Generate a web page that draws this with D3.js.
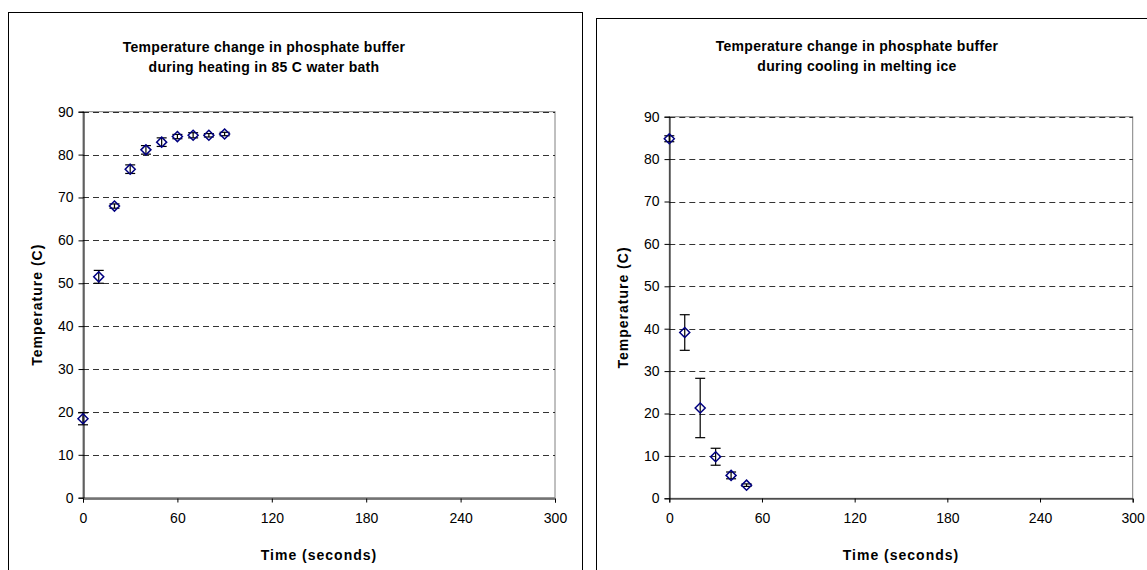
<!DOCTYPE html>
<html>
<head>
<meta charset="utf-8">
<script src="https://cdn.jsdelivr.net/npm/d3@7"></script>
<style>
  body { margin: 0; background: white; }
  svg text { font-family: "Liberation Sans", Arial, sans-serif; fill: #000; }
</style>
</head>
<body>
<div id="chart"></div>
<script>
const timeHeat = [0, 10, 20, 30, 40, 50, 60, 70, 80, 90];
const tempHeat = [18.4, 51.5, 68.0, 76.6, 81.1, 82.9, 84.2, 84.5, 84.5, 84.8];
const errHeat = [1.4, 1.5, 0.5, 1.0, 1.0, 1.0, 0.5, 0.6, 0.4, 0.4];

const timeCool = [0, 10, 20, 30, 40, 50];
const tempCool = [84.8, 39.1, 21.3, 9.8, 5.4, 3.1];
const errCool = [0.7, 4.2, 7.0, 2.0, 0.8, 0.3];

const xTicks = [0, 60, 120, 180, 240, 300];
const yTicks = [0, 10, 20, 30, 40, 50, 60, 70, 80, 90];

const titleHeat = ['Temperature change in phosphate buffer', 'during heating in 85 C water bath'];
const titleCool = ['Temperature change in phosphate buffer', 'during cooling in melting ice'];

const markerColor = '#000080';
const gridColor = '#000000';
const borderColor = '#808080';
const tickFontSize = '14px';

const svg = d3.select('#chart')
  .append('svg')
  .attr('width', 1147)
  .attr('height', 570);

function drawChart({frame, plot, title, titleX, titleY, times, temps, errs, yLabelX, xLabelY}) {
  // outer chart frame
  svg.append('rect')
    .attr('x', frame.x + 0.5)
    .attr('y', frame.y + 0.5)
    .attr('width', frame.w)
    .attr('height', frame.h)
    .attr('fill', 'white')
    .attr('stroke', '#000')
    .attr('stroke-width', 1);

  const xScale = d3.scaleLinear().domain([0, 300]).range([plot.x0, plot.x1]);
  const yScale = d3.scaleLinear().domain([0, 90]).range([plot.y0, plot.y1]);

  const g = svg.append('g');

  // plot area border
  g.append('rect')
    .attr('x', plot.x0)
    .attr('y', plot.y1)
    .attr('width', plot.x1 - plot.x0)
    .attr('height', plot.y0 - plot.y1)
    .attr('fill', 'none')
    .attr('stroke', borderColor)
    .attr('stroke-width', 1);

  // dashed gridlines
  g.append('g')
    .selectAll('line')
    .data(yTicks.filter(d => d > 0))
    .join('line')
    .attr('x1', plot.x0)
    .attr('x2', plot.x1)
    .attr('y1', d => Math.round(yScale(d)) + 0.5)
    .attr('y2', d => Math.round(yScale(d)) + 0.5)
    .attr('stroke', gridColor)
    .attr('stroke-opacity', 0.8)
    .attr('stroke-dasharray', '6,4');

  const xAxis = g.append('g')
    .attr('transform', `translate(0, ${Math.round(plot.y0) + 0.5})`)
    .call(d3.axisBottom(xScale).tickValues(xTicks).tickSize(4).tickPadding(11));
  xAxis.select('.domain').attr('stroke', '#000');
  xAxis.selectAll('text').style('font-size', tickFontSize);

  const yAxis = g.append('g')
    .attr('transform', `translate(${Math.round(plot.x0) + 0.5}, 0)`)
    .call(d3.axisLeft(yScale).tickValues(yTicks).tickSize(5).tickPadding(5));
  yAxis.select('.domain').attr('stroke', '#000');
  yAxis.selectAll('text').style('font-size', tickFontSize);

  // title
  svg.append('text')
    .attr('x', titleX)
    .attr('y', titleY)
    .attr('text-anchor', 'middle')
    .style('font-size', '14px')
    .style('font-weight', 'bold')
    .style('letter-spacing', '0.3px')
    .selectAll('tspan')
    .data(title)
    .join('tspan')
    .attr('x', titleX)
    .attr('dy', (d, i) => i === 0 ? 0 : 20)
    .text(d => d);

  svg.append('text')
    .attr('transform', `translate(${yLabelX}, ${(plot.y0 + plot.y1) / 2}) rotate(-90)`)
    .attr('text-anchor', 'middle')
    .attr('dy', '0.35em')
    .style('font-size', '14px')
    .style('font-weight', 'bold')
    .style('letter-spacing', '1px')
    .text('Temperature (C)');

  svg.append('text')
    .attr('x', (plot.x0 + plot.x1) / 2)
    .attr('y', xLabelY)
    .attr('text-anchor', 'middle')
    .attr('dy', '0.35em')
    .style('font-size', '14px')
    .style('font-weight', 'bold')
    .style('letter-spacing', '1px')
    .text('Time (seconds)');

  // error bars
  const bars = g.append('g').attr('stroke', '#000').attr('stroke-width', 1.2);
  times.forEach((t, i) => {
    const cx = xScale(t);
    const top = yScale(temps[i] + errs[i]);
    const bot = yScale(temps[i] - errs[i]);
    bars.append('line').attr('x1', cx).attr('x2', cx).attr('y1', top).attr('y2', bot);
    bars.append('line').attr('x1', cx - 5).attr('x2', cx + 5).attr('y1', top).attr('y2', top);
    bars.append('line').attr('x1', cx - 5).attr('x2', cx + 5).attr('y1', bot).attr('y2', bot);
  });

  // diamond markers
  const diamond = d3.symbol().type(d3.symbolDiamond2).size(64);
  g.append('g')
    .selectAll('path')
    .data(times)
    .join('path')
    .attr('transform', (t, i) => `translate(${xScale(t)}, ${yScale(temps[i])})`)
    .attr('d', diamond)
    .attr('fill', 'none')
    .attr('stroke', markerColor)
    .attr('stroke-width', 1.5);
}

drawChart({
  frame: {x: 8, y: 12, w: 574, h: 570},
  plot: {x0: 83, x1: 555, y0: 497.7, y1: 111.7},
  title: titleHeat,
  titleX: 264,
  titleY: 52,
  times: timeHeat,
  temps: tempHeat,
  errs: errHeat,
  yLabelX: 37,
  xLabelY: 555
});

drawChart({
  frame: {x: 596, y: 18, w: 560, h: 570},
  plot: {x0: 669.3, x1: 1132.7, y0: 498.3, y1: 116.7},
  title: titleCool,
  titleX: 857,
  titleY: 51,
  times: timeCool,
  temps: tempCool,
  errs: errCool,
  yLabelX: 623,
  xLabelY: 555
});
</script>
</body>
</html>
